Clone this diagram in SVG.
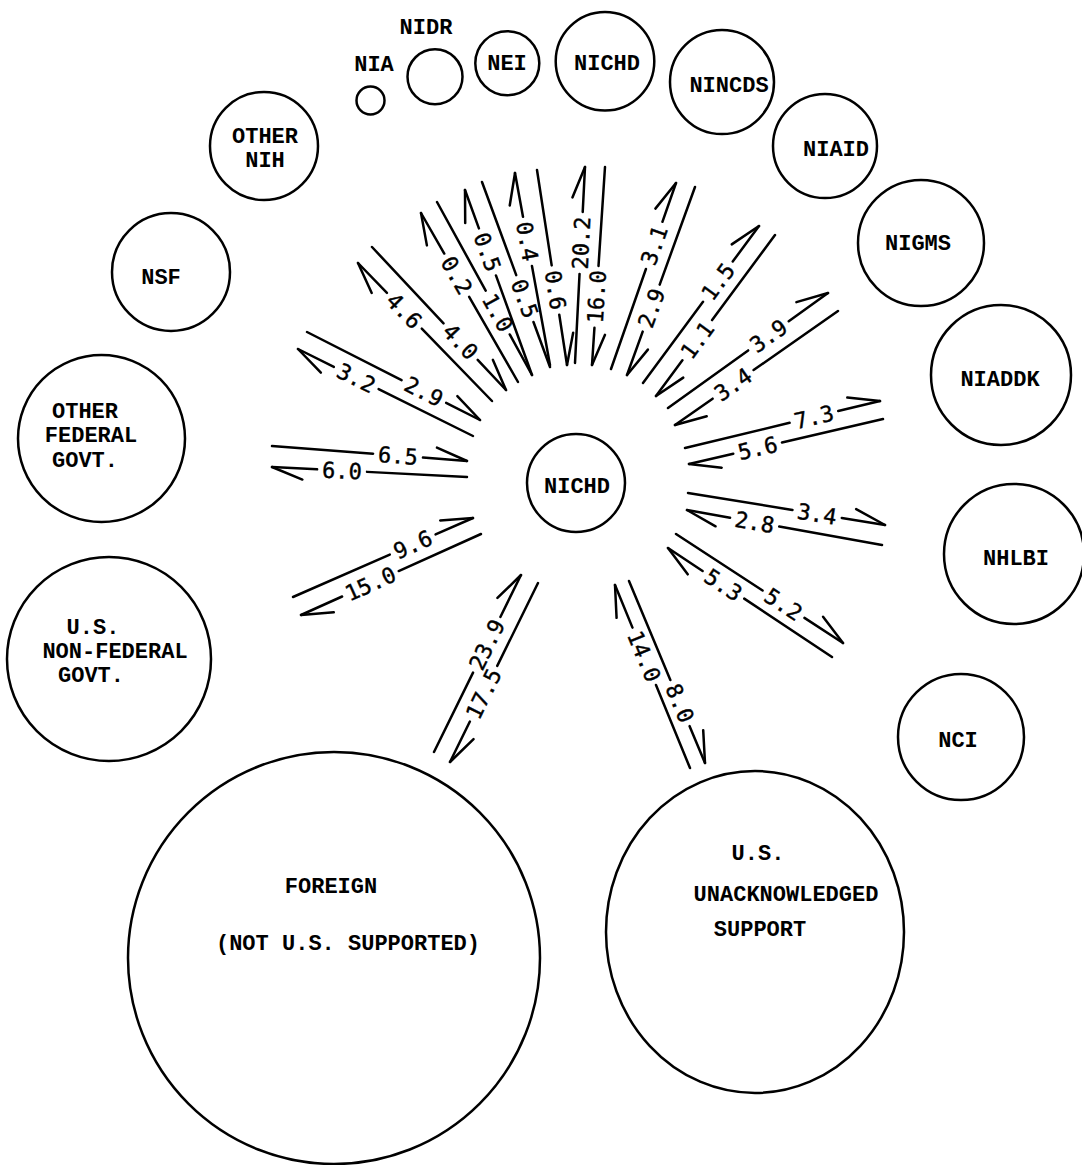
<svg xmlns="http://www.w3.org/2000/svg" width="1082" height="1165" viewBox="0 0 1082 1165">
<style>
.n circle,.n ellipse{fill:none;stroke:#000;stroke-width:2.5}
.n text{font-family:"Liberation Mono","DejaVu Sans Mono",monospace;font-size:22px;font-weight:bold;text-anchor:middle;fill:#000}
#connectors line{stroke:#000;stroke-width:2.5;stroke-linecap:round;fill:none}
#connectors text{font-family:"DejaVu Sans Mono","Liberation Mono",monospace;font-size:22px;text-anchor:middle;fill:#000;stroke:#000;stroke-width:0.4}
</style>
<defs>
<marker id="bm" markerUnits="userSpaceOnUse" orient="auto" viewBox="-40 -20 50 40" refX="0" refY="0" markerWidth="50" markerHeight="40" overflow="visible">
<path d="M0,0 L-31,-11" stroke="#000" stroke-width="2.5" stroke-linecap="round" fill="none"/>
</marker>
</defs>
<rect width="1082" height="1165" fill="#fff"/>

<g id="node-nichd-center" class="n"><circle cx="576" cy="483" r="49"/><text x="577" y="493">NICHD</text></g>
<g id="node-nia" class="n"><circle cx="370.5" cy="100.5" r="14"/><text x="374" y="71">NIA</text></g>
<g id="node-nidr" class="n"><circle cx="435" cy="76.7" r="27.5"/><text x="426" y="34">NIDR</text></g>
<g id="node-nei" class="n"><circle cx="507.3" cy="63.2" r="32"/><text x="507" y="70">NEI</text></g>
<g id="node-nichd" class="n"><circle cx="605" cy="61.3" r="49.3"/><text x="607" y="70">NICHD</text></g>
<g id="node-nincds" class="n"><circle cx="722" cy="82" r="52"/><text x="729" y="92">NINCDS</text></g>
<g id="node-niaid" class="n"><circle cx="825" cy="146" r="52"/><text x="836" y="156">NIAID</text></g>
<g id="node-nigms" class="n"><circle cx="921" cy="243" r="63"/><text x="918" y="250">NIGMS</text></g>
<g id="node-niaddk" class="n"><circle cx="1001" cy="375" r="70"/><text x="1000" y="386">NIADDK</text></g>
<g id="node-nhlbi" class="n"><circle cx="1014" cy="554" r="70"/><text x="1016" y="565">NHLBI</text></g>
<g id="node-nci" class="n"><circle cx="961" cy="737" r="63"/><text x="958" y="747">NCI</text></g>
<g id="node-us-unack" class="n"><ellipse cx="755" cy="932" rx="149" ry="161"/><text x="758" y="860">U.S.</text><text x="786" y="901">UNACKNOWLEDGED</text><text x="760" y="936">SUPPORT</text></g>
<g id="node-foreign" class="n"><circle cx="334" cy="958" r="206"/><text x="331" y="893">FOREIGN</text><text x="348" y="950">(NOT U.S. SUPPORTED)</text></g>
<g id="node-us-nonfed" class="n"><circle cx="109" cy="659" r="102"/><text x="93" y="634">U.S.</text><text x="115" y="658">NON-FEDERAL</text><text x="91" y="682">GOVT.</text></g>
<g id="node-other-fed" class="n"><circle cx="101.5" cy="438.5" r="83.5"/><text x="85" y="418">OTHER</text><text x="91" y="442">FEDERAL</text><text x="85" y="467">GOVT.</text></g>
<g id="node-nsf" class="n"><circle cx="171" cy="272" r="59"/><text x="161" y="284">NSF</text></g>
<g id="node-other-nih" class="n"><circle cx="264" cy="146" r="54"/><text x="265" y="143">OTHER</text><text x="265" y="167">NIH</text></g>

<g id="connectors">
<line x1="492" y1="401" x2="358" y2="263" stroke-dasharray="100.8 50 400" marker-end="url(#bm)"/>
<text transform="translate(492 401) rotate(45.84)" x="-125.8" dy="0.36em">4.6</text>
<line x1="372" y1="247" x2="506" y2="390" stroke-dasharray="104.6 50 400" marker-end="url(#bm)"/>
<text transform="translate(372 247) rotate(46.86)" x="129.6" dy="0.36em">4.0</text>

<line x1="518" y1="382" x2="421" y2="213" stroke-dasharray="98.1 50 400" marker-end="url(#bm)"/>
<text transform="translate(518 382) rotate(60.14)" x="-123.1" dy="0.36em">0.2</text>
<line x1="437" y1="202" x2="532" y2="375" stroke-dasharray="101.1 50 400"/>
<text transform="translate(437 202) rotate(61.23)" x="126.1" dy="0.36em">1.0</text>

<line x1="532" y1="375" x2="465" y2="190" stroke-dasharray="105.9 50 400" marker-end="url(#bm)"/>
<text transform="translate(532 375) rotate(70.09)" x="-130.9" dy="0.36em">0.5</text>
<line x1="482" y1="182" x2="550" y2="367" stroke-dasharray="99.2 50 400"/>
<text transform="translate(482 182) rotate(69.82)" x="124.2" dy="0.36em">0.5</text>

<line x1="550" y1="365" x2="515" y2="173" stroke-dasharray="100.6 50 400" marker-end="url(#bm)"/>
<text transform="translate(550 365) rotate(79.67)" x="-125.6" dy="0.36em">0.4</text>
<line x1="537" y1="170" x2="567" y2="365" stroke-dasharray="96.5 50 400" marker-end="url(#bm)"/>
<text transform="translate(537 170) rotate(81.25)" x="121.5" dy="0.36em">0.6</text>

<line x1="575" y1="363" x2="585" y2="167" stroke-dasharray="89.2 62 400" marker-end="url(#bm)"/>
<text transform="translate(575 363) rotate(-87.08)" x="120.2" dy="0.36em">20.2</text>
<line x1="605" y1="167" x2="592" y2="365" stroke-dasharray="99.1 62 400" marker-end="url(#bm)"/>
<text transform="translate(605 167) rotate(-86.24)" x="-130.1" dy="0.36em">16.0</text>

<line x1="611" y1="369" x2="676" y2="183" stroke-dasharray="105.9 50 400" marker-end="url(#bm)"/>
<text transform="translate(611 369) rotate(-70.74)" x="130.9" dy="0.36em">3.1</text>
<line x1="695" y1="187" x2="627" y2="375" stroke-dasharray="103.8 50 400" marker-end="url(#bm)"/>
<text transform="translate(695 187) rotate(-70.12)" x="-128.8" dy="0.36em">2.9</text>

<line x1="643" y1="383" x2="759" y2="226" stroke-dasharray="101 50 400" marker-end="url(#bm)"/>
<text transform="translate(643 383) rotate(-53.54)" x="126" dy="0.36em">1.5</text>
<line x1="775" y1="235" x2="656" y2="396" stroke-dasharray="105.8 50 400" marker-end="url(#bm)"/>
<text transform="translate(775 235) rotate(-53.53)" x="-130.8" dy="0.36em">1.1</text>

<line x1="668" y1="408" x2="828" y2="293" stroke-dasharray="98.7 50 400" marker-end="url(#bm)"/>
<text transform="translate(668 408) rotate(-35.71)" x="123.7" dy="0.36em">3.9</text>
<line x1="838" y1="311" x2="675" y2="425" stroke-dasharray="103 50 400" marker-end="url(#bm)"/>
<text transform="translate(838 311) rotate(-34.97)" x="-128" dy="0.36em">3.4</text>

<line x1="685" y1="448" x2="880" y2="401" stroke-dasharray="107.6 50 400" marker-end="url(#bm)"/>
<text transform="translate(685 448) rotate(-13.55)" x="132.6" dy="0.36em">7.3</text>
<line x1="883" y1="419" x2="689" y2="464" stroke-dasharray="103.7 50 400" marker-end="url(#bm)"/>
<text transform="translate(883 419) rotate(-13.06)" x="-128.7" dy="0.36em">5.6</text>

<line x1="688" y1="493" x2="885" y2="525" stroke-dasharray="105.8 50 400" marker-end="url(#bm)"/>
<text transform="translate(688 493) rotate(9.23)" x="130.8" dy="0.36em">3.4</text>
<line x1="882" y1="545" x2="687" y2="510" stroke-dasharray="104.4 50 400" marker-end="url(#bm)"/>
<text transform="translate(882 545) rotate(10.18)" x="-129.4" dy="0.36em">2.8</text>

<line x1="676" y1="534" x2="843" y2="643" stroke-dasharray="103.4 50 400" marker-end="url(#bm)"/>
<text transform="translate(676 534) rotate(33.13)" x="128.4" dy="0.36em">5.2</text>
<line x1="832" y1="657" x2="668" y2="548" stroke-dasharray="105.4 50 400" marker-end="url(#bm)"/>
<text transform="translate(832 657) rotate(33.61)" x="-130.4" dy="0.36em">5.3</text>

<line x1="690" y1="768" x2="615" y2="585" stroke-dasharray="89.7 62 400" marker-end="url(#bm)"/>
<text transform="translate(690 768) rotate(67.71)" x="-120.7" dy="0.36em">14.0</text>
<line x1="629" y1="581" x2="705" y2="763" stroke-dasharray="107.3 50 400" marker-end="url(#bm)"/>
<text transform="translate(629 581) rotate(67.33)" x="132.3" dy="0.36em">8.0</text>

<line x1="434" y1="752" x2="521" y2="575" stroke-dasharray="88.5 62 400" marker-end="url(#bm)"/>
<text transform="translate(434 752) rotate(-63.83)" x="119.5" dy="0.36em">23.9</text>
<line x1="538" y1="583" x2="450" y2="762" stroke-dasharray="92.4 62 400" marker-end="url(#bm)"/>
<text transform="translate(538 583) rotate(-63.82)" x="-123.4" dy="0.36em">17.5</text>

<line x1="293" y1="597" x2="473" y2="518" stroke-dasharray="105.7 50 400" marker-end="url(#bm)"/>
<text transform="translate(293 597) rotate(-23.69)" x="130.7" dy="0.36em">9.6</text>
<line x1="481" y1="534" x2="301" y2="615" stroke-dasharray="90.3 62 400" marker-end="url(#bm)"/>
<text transform="translate(481 534) rotate(-24.23)" x="-121.3" dy="0.36em">15.0</text>

<line x1="272" y1="446" x2="467" y2="461" stroke-dasharray="101.4 50 400" marker-end="url(#bm)"/>
<text transform="translate(272 446) rotate(4.4)" x="126.4" dy="0.36em">6.5</text>
<line x1="467" y1="477" x2="272" y2="467" stroke-dasharray="100.1 50 400" marker-end="url(#bm)"/>
<text transform="translate(467 477) rotate(2.94)" x="-125.1" dy="0.36em">6.0</text>

<line x1="307" y1="332" x2="480" y2="420" stroke-dasharray="106.1 50 400" marker-end="url(#bm)"/>
<text transform="translate(307 332) rotate(26.96)" x="131.1" dy="0.36em">2.9</text>
<line x1="473" y1="436" x2="298" y2="349" stroke-dasharray="105.4 50 400" marker-end="url(#bm)"/>
<text transform="translate(473 436) rotate(26.43)" x="-130.4" dy="0.36em">3.2</text>
</g>
</svg>
